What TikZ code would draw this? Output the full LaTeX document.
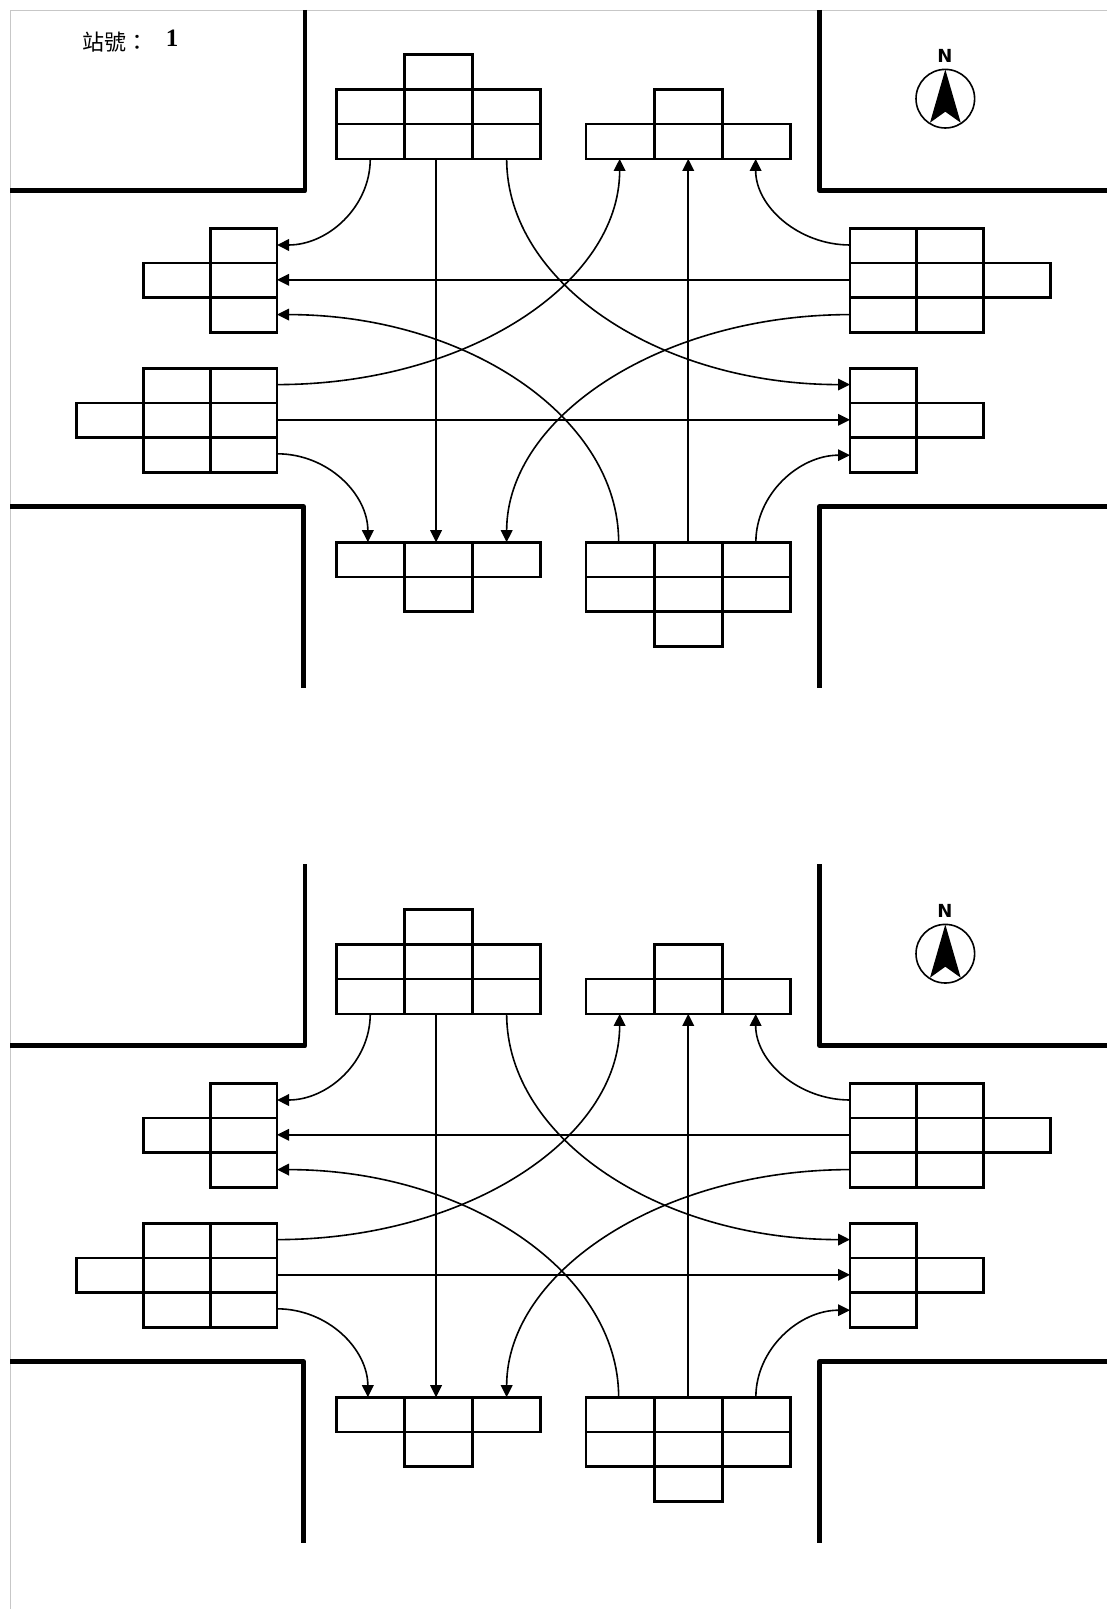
\documentclass[tikz,border=0pt]{standalone}
\usepackage{fontspec}
\setmainfont{Liberation Serif}
\newfontfamily\cjkfont{Noto Sans CJK TC}
\newfontfamily\compassfont{DejaVu Sans}
\usetikzlibrary{arrows.meta}
\tikzset{
  cellw/.style={draw,rectangle,inner sep=0pt,outer sep=0pt,line width=1.35pt,minimum width=34.05pt,minimum height=17.4pt},
  celln/.style={cellw,minimum width=33.4pt},
  flow/.style={line width=0.8pt,-{Triangle[length=6pt,width=5.8pt]}},
  wall/.style={line width=2.3pt,line cap=butt,line join=round},
  frameline/.style={line width=0.6pt,color=black!22},
}
\newcommand\ncell[4][cellw]{\node[#1,anchor=north west] (\p-#2) at (#3,#4) {};}
\begin{document}
\begin{tikzpicture}[x=0.5pt,y=-0.5pt]
\useasboundingbox (0,0) rectangle (1107,1609);
\draw[frameline] (1107,10.3) -- (10.3,10.3) -- (10.3,1609);
\node[anchor=west,inner sep=0pt,font=\cjkfont\fontsize{11}{13}\selectfont] (title) at (82,42) {站號\char"FF1A};
\node[inner sep=0pt,font=\bfseries\fontsize{12.5}{14}\selectfont] (num) at (172,38.5) {1};
\foreach \p/\dy in {a/0,b/855}{
\begin{scope}[shift={(0,\dy)}]
  % walls
  \draw[wall] (305,\ifnum\dy=0 10\else 9\fi) -- (305,190.7) -- (10.3,190.7);
  \draw[wall] (819.7,\ifnum\dy=0 10\else 9\fi) -- (819.7,190.7) -- (1107,190.7);
  \draw[wall] (10.3,506.3) -- (303.5,506.3) -- (303.5,688);
  \draw[wall] (1107,506.3) -- (819.7,506.3) -- (819.7,688);
  % compass
  \node[inner sep=0pt,font=\compassfont\bfseries\fontsize{9}{10}\selectfont] (\p-north) at (945,56) {N};
  \draw[line width=0.8pt] (945.3,98.7) circle[radius=29.3];
  \fill (945.3,69.5) -- (960.7,122.7) -- (945.3,111.7) -- (930,122.7) -- cycle;
  % north entry group
  \ncell{n0}{404.4}{54.5}
  \ncell{t1}{336.2}{89.3}\ncell{t2}{404.4}{89.3}\ncell{t3}{472.6}{89.3}
  \ncell{n1}{336.2}{124.1}\ncell{n2}{404.4}{124.1}\ncell{n3}{472.6}{124.1}
  % north exit group
  \ncell{ne0}{654.2}{89.3}
  \ncell{ne1}{586}{124.1}\ncell{ne2}{654.2}{124.1}\ncell{ne3}{722.4}{124.1}
  % west upper group
  \ncell[celln]{wu1}{210.2}{228.2}\ncell[celln]{wu2}{210.2}{263}\ncell[celln]{wu3}{210.2}{297.8}
  \ncell[celln]{wu4}{143.4}{263}
  % west lower group
  \ncell[celln]{wl1}{210.2}{368.2}\ncell[celln]{wl2}{210.2}{403}\ncell[celln]{wl3}{210.2}{437.8}
  \ncell[celln]{wl4}{143.4}{368.2}\ncell[celln]{wl5}{143.4}{403}\ncell[celln]{wl6}{143.4}{437.8}
  \ncell[celln]{wl7}{76.6}{403}
  % east upper group
  \ncell[celln]{eu1}{850}{228.2}\ncell[celln]{eu2}{850}{263}\ncell[celln]{eu3}{850}{297.8}
  \ncell[celln]{eu4}{916.8}{228.2}\ncell[celln]{eu5}{916.8}{263}\ncell[celln]{eu6}{916.8}{297.8}
  \ncell[celln]{eu7}{983.6}{263}
  % east lower group
  \ncell[celln]{el1}{850}{368.2}\ncell[celln]{el2}{850}{403}\ncell[celln]{el3}{850}{437.8}
  \ncell[celln]{el4}{916.8}{403}
  % south exit group
  \ncell{sl1}{336.2}{542.2}\ncell{sl2}{404.4}{542.2}\ncell{sl3}{472.6}{542.2}
  \ncell{sl4}{404.4}{577}
  % south entry group
  \ncell{su1}{586}{542.2}\ncell{su2}{654.2}{542.2}\ncell{su3}{722.4}{542.2}
  \ncell{su4}{586}{577}\ncell{su5}{654.2}{577}\ncell{su6}{722.4}{577}
  \ncell{su7}{654.2}{611.8}
  % connectors
  \draw[flow] (\p-n1.south) to[controls={+(0,48) and +(51,0)}] ([yshift=0.3pt]\p-wu1.east);
  \draw[flow] ([xshift=-1.2pt]\p-n2.south) -- ([xshift=-1.2pt]\p-sl2.north);
  \draw[flow] (\p-n3.south) to[controls={+(0,125) and +(-189,0)}] ([yshift=0.5pt]\p-el1.west);
  \draw[flow] ([yshift=0.5pt]\p-wl1.east) to[controls={+(189,0) and +(0,125)}] ([xshift=-0.2pt]\p-ne1.south);
  \draw[flow] (\p-su2.north) -- (\p-ne2.south);
  \draw[flow] ([yshift=0.3pt]\p-eu1.west) to[controls={+(-51,0) and +(0,48)}] ([xshift=-0.4pt]\p-ne3.south);
  \draw[flow] ([yshift=0.3pt]\p-eu2.west) -- ([yshift=0.3pt]\p-wu2.east);
  \draw[flow] ([yshift=0.3pt]\p-eu3.west) to[controls={+(-189,0) and +(0,-125)}] (\p-sl3.north);
  \draw[flow] ([yshift=0.3pt]\p-wl2.east) -- ([yshift=0.3pt]\p-el2.west);
  \draw[flow] ([yshift=0.7pt]\p-wl3.east) to[controls={+(51,0) and +(0,-48)}] ([xshift=-1.2pt]\p-sl1.north);
  \draw[flow] ([xshift=-0.7pt]\p-su1.north) to[controls={+(0,-125) and +(189,0)}] ([yshift=0.3pt]\p-wu3.east);
  \draw[flow] ([xshift=-0.3pt]\p-su3.north) to[controls={+(0,-48) and +(-51,0)}] (\p-el3.west);
\end{scope}
}
\end{tikzpicture}
\end{document}
